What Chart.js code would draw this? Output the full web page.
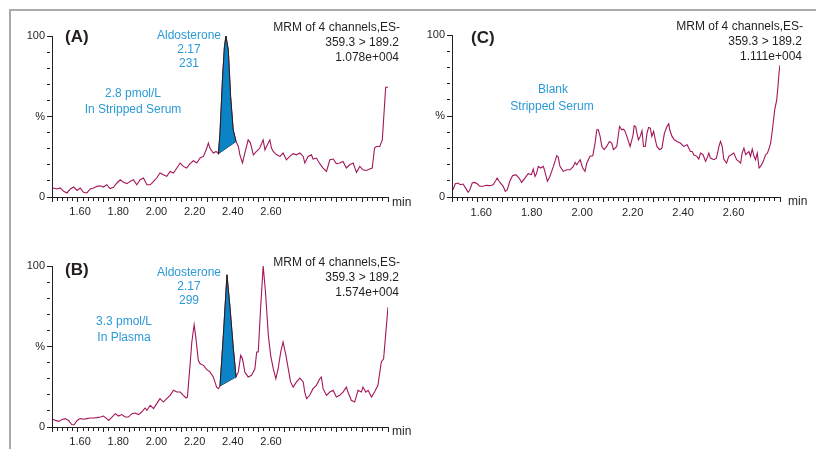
<!DOCTYPE html>
<html>
<head>
<meta charset="utf-8">
<script src="https://cdn.jsdelivr.net/npm/chart.js@4.4.1/dist/chart.umd.min.js"></script>
<style>
html, body { margin: 0; padding: 0; background: #fff; }
body { width: 816px; height: 449px; position: relative; overflow: hidden; }
.frame { position: absolute; left: 9px; top: 9px; width: 900px; height: 500px; border-top: 2px solid #ababab; border-left: 2px solid #ababab; }
canvas { position: absolute; }
</style>
</head>
<body>
<div class="frame"></div>
<canvas id="chartC" width="408" height="224" style="left:408px;top:0"></canvas>
<canvas id="chartA" width="420" height="224" style="left:0;top:0"></canvas>
<canvas id="chartB" width="420" height="223" style="left:0;top:226px"></canvas>
<script>
const TRACE_COLOR = '#a3175a'
const PEAK_FILL = '#0a84c6'
const NOTE_BLUE = '#2b9ad6'
const INK = '#231f20'
const FONT = '"Liberation Sans", Arial, sans-serif'

// time (min), intensity (%)
const TRACE_A = [[1.504,5.6],[1.519,5.0],[1.532,5.6],[1.545,3.5],[1.558,2.5],[1.571,5.0],[1.584,6.2],[1.597,4.1],[1.609,5.6],[1.622,2.9],[1.635,2.5],[1.648,5.0],[1.661,5.6],[1.674,6.6],[1.687,7.0],[1.699,6.2],[1.712,7.6],[1.725,5.2],[1.738,6.0],[1.751,8.7],[1.764,10.7],[1.777,9.1],[1.790,8.3],[1.802,9.7],[1.815,10.7],[1.828,7.6],[1.841,10.7],[1.854,11.8],[1.867,7.6],[1.880,7.6],[1.893,9.7],[1.905,11.8],[1.918,14.9],[1.931,13.8],[1.944,12.8],[1.957,15.9],[1.970,14.9],[1.983,18.0],[1.996,21.1],[2.008,19.0],[2.021,18.0],[2.034,20.7],[2.047,22.5],[2.060,21.1],[2.073,24.2],[2.086,25.2],[2.099,30.4],[2.105,33.5],[2.111,30.4],[2.124,27.3],[2.135,28.3],[2.144,26.9],[2.150,39.7],[2.160,74.4],[2.167,93.0],[2.173,100],[2.182,91.3],[2.191,62.4],[2.201,41.7],[2.212,34.5],[2.221,31.4],[2.227,26.2],[2.237,21.1],[2.246,27.3],[2.259,35.5],[2.268,33.5],[2.279,26.2],[2.291,28.3],[2.304,30.4],[2.317,35.5],[2.324,29.3],[2.330,31.4],[2.343,35.5],[2.349,30.4],[2.356,28.3],[2.369,26.2],[2.382,25.2],[2.394,27.3],[2.407,23.1],[2.420,25.2],[2.433,26.9],[2.446,26.2],[2.459,27.3],[2.472,25.2],[2.478,21.1],[2.491,25.2],[2.504,26.2],[2.510,23.6],[2.523,24.2],[2.536,20.7],[2.549,18.0],[2.562,15.9],[2.575,23.1],[2.588,23.6],[2.600,20.7],[2.613,21.1],[2.626,22.1],[2.639,18.0],[2.652,20.0],[2.665,21.1],[2.678,15.3],[2.691,19.0],[2.703,16.9],[2.716,16.5],[2.729,17.4],[2.739,18.0],[2.748,30.4],[2.755,31.4],[2.768,31.4],[2.778,35.5],[2.791,68.2],[2.800,68.2]]
const PEAK_A = [[2.144,26.9],[2.150,39.7],[2.160,74.4],[2.167,93.0],[2.173,100],[2.182,91.3],[2.191,62.4],[2.201,41.7],[2.212,34.5]]
const BASE_A = [[2.144,26.9],[2.212,34.5]]

const TRACE_B = [[1.504,4.8],[1.513,4.1],[1.526,3.5],[1.539,4.6],[1.551,5.2],[1.564,4.1],[1.577,1.4],[1.586,1.4],[1.597,4.1],[1.609,5.2],[1.622,4.8],[1.635,5.2],[1.648,5.6],[1.661,5.6],[1.674,5.8],[1.687,6.2],[1.699,6.8],[1.712,5.2],[1.719,4.1],[1.732,6.2],[1.745,8.3],[1.757,6.8],[1.770,7.7],[1.783,6.2],[1.796,6.2],[1.809,8.3],[1.822,8.7],[1.835,7.7],[1.847,9.3],[1.860,11.8],[1.867,10.4],[1.880,13.5],[1.893,11.4],[1.905,14.5],[1.918,17.6],[1.931,15.5],[1.944,17.6],[1.957,19.7],[1.970,22.8],[1.983,21.7],[1.996,21.7],[2.008,19.7],[2.019,18.0],[2.024,18.6],[2.034,38.3],[2.041,52.8],[2.050,63.6],[2.057,54.9],[2.066,41.4],[2.073,39.3],[2.086,38.3],[2.098,35.8],[2.111,34.2],[2.124,31.1],[2.137,24.8],[2.144,23.8],[2.150,25.5],[2.163,56.9],[2.177,94.6],[2.189,73.5],[2.201,49.7],[2.212,31.1],[2.221,34.2],[2.230,44.5],[2.237,42.4],[2.246,34.2],[2.259,31.1],[2.272,32.1],[2.285,36.2],[2.292,46.6],[2.298,46.6],[2.307,73.5],[2.317,100],[2.326,83.9],[2.337,56.9],[2.346,44.5],[2.356,36.2],[2.366,30.0],[2.375,36.2],[2.385,46.6],[2.394,52.8],[2.405,44.5],[2.414,36.2],[2.423,28.0],[2.433,24.8],[2.446,28.0],[2.459,30.4],[2.472,28.0],[2.478,21.7],[2.485,17.6],[2.497,19.7],[2.510,23.8],[2.523,25.9],[2.536,30.0],[2.542,31.1],[2.549,23.8],[2.562,19.7],[2.575,21.7],[2.588,22.8],[2.600,18.6],[2.613,19.7],[2.626,21.7],[2.639,24.8],[2.645,21.7],[2.658,16.6],[2.671,15.5],[2.684,22.8],[2.697,21.7],[2.703,24.8],[2.714,21.7],[2.723,22.8],[2.736,18.6],[2.748,21.7],[2.761,25.9],[2.774,40.4],[2.783,42.4],[2.794,63.1],[2.800,74.5]]
const PEAK_B = [[2.150,25.5],[2.163,56.9],[2.177,94.6],[2.189,73.5],[2.201,49.7],[2.212,31.1]]
const BASE_B = [[2.150,25.5],[2.212,31.1]]

const TRACE_C = [[1.504,4.5],[1.513,8.2],[1.524,8.6],[1.533,7.6],[1.544,8.0],[1.554,5.5],[1.564,2.9],[1.570,4.1],[1.580,8.6],[1.590,9.0],[1.601,8.0],[1.610,6.6],[1.623,6.6],[1.636,7.2],[1.650,7.0],[1.663,7.6],[1.674,10.3],[1.679,11.7],[1.690,9.0],[1.703,6.6],[1.711,3.5],[1.719,4.5],[1.729,9.7],[1.740,13.1],[1.753,13.8],[1.766,11.7],[1.776,9.0],[1.789,11.7],[1.802,14.4],[1.815,13.8],[1.822,17.2],[1.829,12.7],[1.835,14.4],[1.842,18.9],[1.851,17.9],[1.862,18.9],[1.868,15.8],[1.878,9.7],[1.888,12.7],[1.902,18.9],[1.915,25.5],[1.921,24.6],[1.928,18.9],[1.941,15.8],[1.955,16.8],[1.968,16.8],[1.981,18.9],[1.988,21.4],[1.994,19.9],[2.008,23.0],[2.018,17.9],[2.027,15.8],[2.034,20.9],[2.047,25.1],[2.058,25.5],[2.067,33.3],[2.074,41.5],[2.080,41.5],[2.087,37.4],[2.094,31.2],[2.103,29.2],[2.113,31.2],[2.124,34.3],[2.133,33.3],[2.140,29.2],[2.153,31.2],[2.164,43.5],[2.173,41.5],[2.180,41.9],[2.186,40.5],[2.193,37.4],[2.206,31.2],[2.217,37.8],[2.222,43.9],[2.228,43.5],[2.233,39.4],[2.239,35.3],[2.246,37.4],[2.253,40.9],[2.259,31.2],[2.266,31.2],[2.273,39.4],[2.279,42.9],[2.286,42.5],[2.292,37.4],[2.299,40.5],[2.306,35.3],[2.312,31.2],[2.323,29.2],[2.332,30.2],[2.342,39.4],[2.352,43.5],[2.359,45.2],[2.363,41.5],[2.372,37.4],[2.381,35.3],[2.392,34.3],[2.405,33.3],[2.418,31.2],[2.432,32.2],[2.445,28.1],[2.452,28.1],[2.458,26.1],[2.471,25.1],[2.478,23.4],[2.485,27.1],[2.495,26.1],[2.505,22.0],[2.511,24.0],[2.518,27.1],[2.524,24.0],[2.538,23.0],[2.548,24.0],[2.558,31.2],[2.564,34.3],[2.571,31.2],[2.577,23.4],[2.588,20.9],[2.597,25.1],[2.607,26.1],[2.617,27.1],[2.628,23.0],[2.637,22.0],[2.644,20.9],[2.650,27.1],[2.657,30.2],[2.664,26.1],[2.670,27.1],[2.677,28.1],[2.683,25.1],[2.690,29.6],[2.697,25.1],[2.703,23.0],[2.710,27.1],[2.717,17.9],[2.723,18.9],[2.730,20.9],[2.736,23.0],[2.743,26.1],[2.750,27.1],[2.756,29.6],[2.763,33.3],[2.770,41.5],[2.779,53.8],[2.787,60.0],[2.792,68.2],[2.796,76.4],[2.800,81.5]]

const X_RANGE = [1.5, 2.8]
const X_TICK_LABELS = [1.6, 1.8, 2.0, 2.2, 2.4, 2.6]
// label strip used by panels A and B, where the printed labels sit closer together than the time ticks
const LABEL_RANGE_AB = [1.453, 3.213]

Chart.defaults.font.family = FONT
Chart.defaults.font.size = 11
Chart.defaults.color = INK

function pts(pairs) {
  return pairs.map(([x, y]) => ({ x, y }))
}

function hundredths(v) {
  return Math.round(v * 100)
}

function xLabel(v) {
  const n = hundredths(v)
  return X_TICK_LABELS.some(t => hundredths(t) === n) ? (n / 100).toFixed(2) : ''
}

const notesPlugin = {
  id: 'notes',
  afterDraw(chart, args, opts) {
    const ctx = chart.ctx
    ctx.save()
    ctx.textBaseline = 'middle'
    for (const n of opts.items || []) {
      ctx.font = n.bold ? 'bold 17px ' + FONT : '12px ' + FONT
      ctx.fillStyle = n.color || INK
      ctx.textAlign = n.align || 'left'
      ctx.fillText(n.text, n.x, n.y)
    }
    ctx.restore()
  },
}

function panel(canvasId, cfg) {
  const datasets = [
    { data: pts(cfg.trace), borderColor: TRACE_COLOR, borderWidth: 1.1, pointRadius: 0, fill: false, order: 3 },
  ]
  if (cfg.peak) {
    datasets.push(
      { data: pts(cfg.peak), borderColor: INK, borderWidth: 1, backgroundColor: PEAK_FILL, pointRadius: 0, fill: { target: 2 }, order: 1 },
      { data: pts(cfg.base), borderColor: INK, borderWidth: 1, pointRadius: 0, fill: false, order: 1 },
    )
  }

  const scales = {
    y: {
      type: 'linear', min: 0, max: 100,
      afterFit: s => { s.width = cfg.left },
      border: { display: true, color: INK, width: 1 },
      grid: {
        display: true, drawOnChartArea: false, drawTicks: true, tickLength: 5, tickColor: INK, tickWidth: 1,
        tickBorderDash: c => (c.tick && c.tick.value % 50 === 0) ? [] : [3, 20],
      },
      ticks: {
        stepSize: 10, padding: 2, autoSkip: false,
        callback: v => v === 100 ? '100' : v === 50 ? '%' : v === 0 ? '0' : '',
      },
    },
    x: {
      type: 'linear', position: 'bottom', min: X_RANGE[0], max: X_RANGE[1],
      afterFit: s => { s.height = cfg.xHeight },
      border: { display: true, color: INK, width: 1 },
      grid: {
        display: true, drawOnChartArea: false, drawTicks: true, tickLength: 5, tickColor: INK, tickWidth: 1,
        tickBorderDash: c => (c.tick && hundredths(c.tick.value) % 10 === 0) ? [] : [3, 20],
      },
      ticks: {
        display: !cfg.labelRange, stepSize: 0.02, autoSkip: false, maxRotation: 0, padding: 4, labelOffset: 4,
        callback: v => xLabel(v),
      },
    },
  }
  if (cfg.labelRange) {
    scales.xl = {
      type: 'linear', axis: 'x', position: 'bottom', min: cfg.labelRange[0], max: cfg.labelRange[1],
      afterBuildTicks: s => { s.ticks = X_TICK_LABELS.map(value => ({ value })) },
      afterFit: s => { s.height = cfg.labelHeight },
      border: { display: false },
      grid: { display: false, drawTicks: false },
      ticks: { autoSkip: false, maxRotation: 0, padding: 2, callback: v => v.toFixed(2) },
    }
  }

  new Chart(document.getElementById(canvasId), {
    type: 'line',
    data: { datasets },
    options: {
      responsive: false,
      animation: false,
      devicePixelRatio: 1,
      events: [],
      layout: { padding: { left: 0, top: cfg.top, right: cfg.right, bottom: 0 } },
      scales,
      plugins: {
        legend: { display: false },
        tooltip: { enabled: false },
        notes: { items: cfg.notes },
      },
    },
    plugins: [notesPlugin],
  })
}

panel('chartA', {
  trace: TRACE_A, peak: PEAK_A, base: BASE_A,
  left: 52, top: 36, right: 32, xHeight: 6, labelHeight: 21, labelRange: LABEL_RANGE_AB,
  notes: [
    { text: '(A)', x: 65, y: 37, bold: true },
    { text: 'Aldosterone', x: 189, y: 36, align: 'center', color: NOTE_BLUE },
    { text: '2.17', x: 189, y: 50, align: 'center', color: NOTE_BLUE },
    { text: '231', x: 189, y: 64, align: 'center', color: NOTE_BLUE },
    { text: 'MRM of 4 channels,ES-', x: 400, y: 28, align: 'right' },
    { text: '359.3 > 189.2', x: 399, y: 43, align: 'right' },
    { text: '1.078e+004', x: 399, y: 58, align: 'right' },
    { text: '2.8 pmol/L', x: 133, y: 94, align: 'center', color: NOTE_BLUE },
    { text: 'In Stripped Serum', x: 133, y: 110, align: 'center', color: NOTE_BLUE },
    { text: 'min', x: 392, y: 203 },
  ],
})

panel('chartB', {
  trace: TRACE_B, peak: PEAK_B, base: BASE_B,
  left: 52, top: 40, right: 32, xHeight: 6, labelHeight: 16, labelRange: LABEL_RANGE_AB,
  notes: [
    { text: '(B)', x: 65, y: 44, bold: true },
    { text: 'Aldosterone', x: 189, y: 47, align: 'center', color: NOTE_BLUE },
    { text: '2.17', x: 189, y: 61, align: 'center', color: NOTE_BLUE },
    { text: '299', x: 189, y: 75, align: 'center', color: NOTE_BLUE },
    { text: 'MRM of 4 channels,ES-', x: 400, y: 37, align: 'right' },
    { text: '359.3 > 189.2', x: 399, y: 52, align: 'right' },
    { text: '1.574e+004', x: 399, y: 67, align: 'right' },
    { text: '3.3 pmol/L', x: 124, y: 96, align: 'center', color: NOTE_BLUE },
    { text: 'In Plasma', x: 124, y: 112, align: 'center', color: NOTE_BLUE },
    { text: 'min', x: 392, y: 206 },
  ],
})

panel('chartC', {
  trace: TRACE_C,
  left: 44, top: 35, right: 36, xHeight: 27, labelRange: null,
  notes: [
    { text: '(C)', x: 63, y: 38, bold: true },
    { text: 'MRM of 4 channels,ES-', x: 395, y: 27, align: 'right' },
    { text: '359.3 > 189.2', x: 394, y: 42, align: 'right' },
    { text: '1.111e+004', x: 394, y: 57, align: 'right' },
    { text: 'Blank', x: 145, y: 90, align: 'center', color: NOTE_BLUE },
    { text: 'Stripped Serum', x: 144, y: 107, align: 'center', color: NOTE_BLUE },
    { text: 'min', x: 380, y: 202 },
  ],
})
</script>
</body>
</html>
